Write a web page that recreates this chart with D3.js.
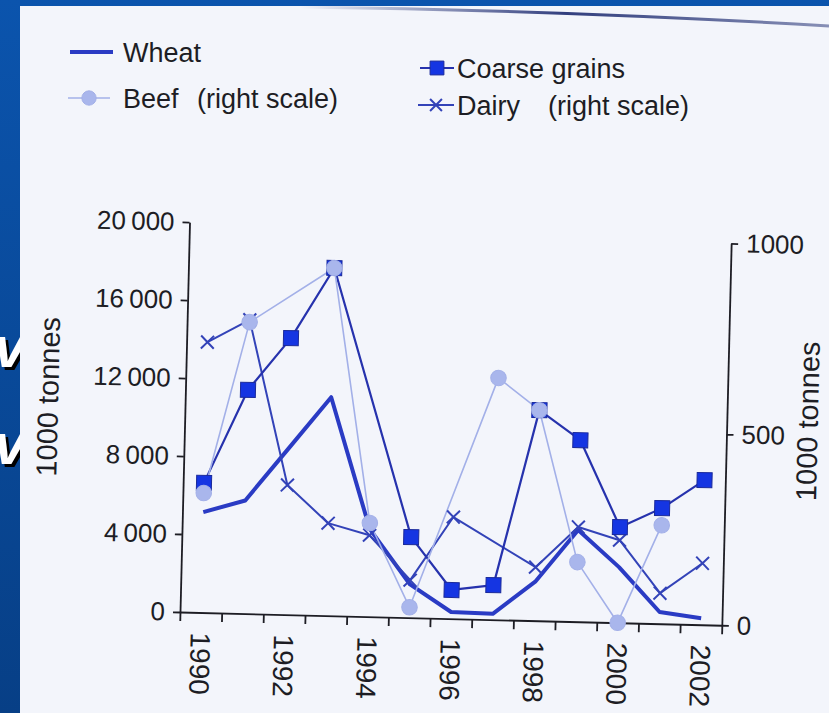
<!DOCTYPE html>
<html>
<head>
<meta charset="utf-8">
<script src="https://cdn.jsdelivr.net/npm/d3@7/dist/d3.min.js"></script>
<style>
  body { margin: 0; background: #0a4fa6; }
  svg { display: block; }
  text { font-family: 'Liberation Sans', Arial, sans-serif; fill: #1d1d24; }
</style>
</head>
<body>
<svg width="829" height="713"></svg>
<script>
// values (left scale: 1000 tonnes, right scale: 1000 tonnes)
const years = [1990, 1991, 1992, 1993, 1994, 1995, 1996, 1997, 1998, 1999, 2000, 2001, 2002];
const wheat = [5150, 5800, 8500, 11200, 4500, 1700, 340, 300, 2000, 4700, 2850, 600, 330];
const coarseGrains = [6650, 11470, 14180, 17830, null, 4130, 1470, 1770, 10800, 9310, 4900, 5930, 7420];
const beef = [313, 763, null, 910, 245, 27, null, 633, 551, 156, 0, 258, null];
const dairy = [708, 769, 339, 242, 213, 98, 266, null, 140, 248, 216, 80, 161];

const leftTicks = [0, 4000, 8000, 12000, 16000, 20000];
const rightTicks = [0, 500, 1000];
const yearLabels = [1990, 1992, 1994, 1996, 1998, 2000, 2002];

const svg = d3.select('svg');
const width = +svg.attr('width');
const height = +svg.attr('height');

// ---- slide background and the photographed page ----
const defs = svg.append('defs');
const slideGrad = defs.append('linearGradient').attr('id', 'slide')
  .attr('x1', 0).attr('y1', 0).attr('x2', 0).attr('y2', 1);
slideGrad.append('stop').attr('offset', 0).attr('stop-color', '#0b54ad');
slideGrad.append('stop').attr('offset', 1).attr('stop-color', '#073f86');

const edgeGrad = defs.append('linearGradient').attr('id', 'edge')
  .attr('x1', 0).attr('y1', 0).attr('x2', 1).attr('y2', 0);
edgeGrad.append('stop').attr('offset', 0).attr('stop-color', '#1c2a70').attr('stop-opacity', 0);
edgeGrad.append('stop').attr('offset', 0.5).attr('stop-color', '#1c2a70').attr('stop-opacity', 0.9);
edgeGrad.append('stop').attr('offset', 1).attr('stop-color', '#1c2a70').attr('stop-opacity', 0.5);

svg.append('rect').attr('width', width).attr('height', height).attr('fill', 'url(#slide)');

// bits of the slide text peeking out on the left
[370, 467].forEach(y => {
  svg.append('text').attr('x', 29).attr('y', y)
    .attr('text-anchor', 'end')
    .style('font-size', '58px').style('font-weight', 'bold').style('font-style', 'italic')
    .style('fill', '#000').text('v');
  svg.append('text').attr('x', 26).attr('y', y - 3)
    .attr('text-anchor', 'end')
    .style('font-size', '58px').style('font-weight', 'bold').style('font-style', 'italic')
    .style('fill', '#fff').text('v');
});

svg.append('rect')
  .attr('x', 20).attr('y', 6)
  .attr('width', width - 20).attr('height', height - 6)
  .attr('fill', '#f3f5fb');

svg.append('path')
  .attr('d', 'M300,7 Q560,10 829,26')
  .attr('fill', 'none')
  .attr('stroke', 'url(#edge)')
  .attr('stroke-width', 3);

// ---- series setup ----
const series = [
  { name: 'Wheat', values: wheat, axis: 'left', color: '#2a3bc4', width: 4, marker: null },
  { name: 'Dairy', values: dairy, axis: 'right', color: '#3343b8', width: 2, marker: d3.symbolX, size: 110, fill: 'none', edge: '#3343b8' },
  { name: 'Coarse grains', values: coarseGrains, axis: 'left', color: '#2632ad', width: 2.2, marker: d3.symbolSquare, size: 225, fill: '#1535e2', edge: '#1b2a9a' },
  { name: 'Beef', values: beef, axis: 'right', color: '#a3b0e8', width: 1.6, marker: d3.symbolCircle, size: 190, fill: '#a9b6ec', edge: '#a3b0e8' }
];

// ---- chart (the page is photographed a little askew) ----
const margin = { top: 222, left: 180 };
const innerWidth = 542;
const innerHeight = 390;
const tilt = 1.4;

const g = svg.append('g')
  .attr('transform', `rotate(${tilt},${margin.left},${margin.top + innerHeight}) translate(${margin.left},${margin.top})`);

const xScale = d3.scaleLinear()
  .domain([years[0] - 0.5, years[years.length - 1] + 0.5])
  .range([0, innerWidth]);

const yLeft = d3.scaleLinear()
  .domain([0, 20000])
  .range([innerHeight, 0]);

const yRight = d3.scaleLinear()
  .domain([0, 1000])
  .range([innerHeight, innerHeight - 382]);

const scaleFor = s => s.axis === 'left' ? yLeft : yRight;

const styleAxis = sel => {
  sel.selectAll('.domain').attr('stroke', '#1d1d24').attr('stroke-width', 1.8);
  sel.selectAll('.tick line').attr('stroke', '#1d1d24').attr('stroke-width', 1.8);
  sel.selectAll('.tick text').style('font-family', "'Liberation Sans', Arial, sans-serif").attr('fill', '#1d1d24');
};

// x axis: ticks between the years
const boundaries = years.map(y => y - 0.5).concat([years[years.length - 1] + 0.5]);
const xAxisG = g.append('g')
  .attr('transform', `translate(0,${innerHeight})`)
  .call(d3.axisBottom(xScale).tickValues(boundaries).tickFormat('').tickSize(9).tickSizeOuter(0));
styleAxis(xAxisG);

const xLabelG = g.append('g')
  .attr('transform', `translate(0,${innerHeight})`)
  .call(d3.axisBottom(xScale).tickValues(yearLabels).tickFormat(d3.format('d')).tickSize(0));
xLabelG.select('.domain').remove();
xLabelG.selectAll('.tick text')
  .attr('transform', 'rotate(90)')
  .attr('x', 20).attr('y', 0).attr('dy', '0.36em')
  .attr('text-anchor', 'start')
  .style('font-size', '28px')
  .style('font-family', "'Liberation Sans', Arial, sans-serif")
  .attr('fill', '#1d1d24');

// left axis
const yLeftG = g.append('g')
  .call(d3.axisLeft(yLeft)
    .tickValues(leftTicks)
    .tickFormat(d => d3.format(',')(d).replace(',', '\u2009'))
    .tickSize(7).tickPadding(8).tickSizeOuter(0));
styleAxis(yLeftG);
yLeftG.selectAll('.tick text').style('font-size', '26px');

// right axis
const yRightG = g.append('g')
  .attr('transform', `translate(${innerWidth},0)`)
  .call(d3.axisRight(yRight).tickValues(rightTicks).tickFormat(d3.format('d'))
    .tickSize(7).tickPadding(8).tickSizeOuter(0));
styleAxis(yRightG);
yRightG.selectAll('.tick text').style('font-size', '26px');

// axis titles
g.append('text')
  .attr('transform', `translate(-127,178) rotate(-90)`)
  .attr('text-anchor', 'middle')
  .style('font-size', '29px')
  .text('1000 tonnes');

g.append('text')
  .attr('transform', `translate(633,184) rotate(-90)`)
  .attr('text-anchor', 'middle')
  .style('font-size', '29px')
  .text('1000 tonnes');

// lines
series.forEach(s => {
  const pts = years.map((yr, i) => ({ year: yr, value: s.values[i] }))
    .filter(d => d.value != null);
  const y = scaleFor(s);
  const line = d3.line()
    .x(d => xScale(d.year))
    .y(d => y(d.value));
  g.append('path')
    .datum(pts)
    .attr('fill', 'none')
    .attr('stroke', s.color)
    .attr('stroke-width', s.width)
    .attr('stroke-linejoin', 'round')
    .attr('d', line);
});

// markers
series.filter(s => s.marker).forEach(s => {
  const pts = years.map((yr, i) => ({ year: yr, value: s.values[i] }))
    .filter(d => d.value != null);
  const y = scaleFor(s);
  g.append('g').selectAll('path').data(pts)
    .enter().append('path')
      .attr('transform', d => `translate(${xScale(d.year)},${y(d.value)})`)
      .attr('d', d3.symbol(s.marker, s.size))
      .attr('fill', s.fill)
      .attr('stroke', s.edge)
      .attr('stroke-width', s.marker === d3.symbolX ? 2 : 1);
});

// ---- legend ----
const legendItems = [
  { key: 'Wheat', label: 'Wheat', extra: null, x1: 70, x2: 113, y: 62, textX: 123, extraX: 0 },
  { key: 'Beef', label: 'Beef', extra: '(right scale)', x1: 68, x2: 110, y: 108, textX: 123, extraX: 197 },
  { key: 'Coarse grains', label: 'Coarse grains', extra: null, x1: 420, x2: 454, y: 78, textX: 457, extraX: 0 },
  { key: 'Dairy', label: 'Dairy', extra: '(right scale)', x1: 418, x2: 454, y: 115, textX: 457, extraX: 548 }
];

const legend = svg.append('g');
legendItems.forEach(item => {
  const s = series.find(d => d.name === item.key);
  const midY = item.y - 10;
  legend.append('line')
    .attr('x1', item.x1).attr('x2', item.x2)
    .attr('y1', midY).attr('y2', midY)
    .attr('stroke', s.color)
    .attr('stroke-width', s.marker ? s.width : 4);
  if (s.marker) {
    legend.append('path')
      .attr('transform', `translate(${(item.x1 + item.x2) / 2},${midY})`)
      .attr('d', d3.symbol(s.marker, s.size * 0.85))
      .attr('fill', s.fill)
      .attr('stroke', s.edge)
      .attr('stroke-width', s.marker === d3.symbolX ? 2 : 1);
  }
  legend.append('text')
    .attr('x', item.textX).attr('y', item.y)
    .style('font-size', '27px')
    .text(item.label);
  if (item.extra) {
    legend.append('text')
      .attr('x', item.extraX).attr('y', item.y)
      .style('font-size', '27px')
      .text(item.extra);
  }
});
</script>
</body>
</html>
